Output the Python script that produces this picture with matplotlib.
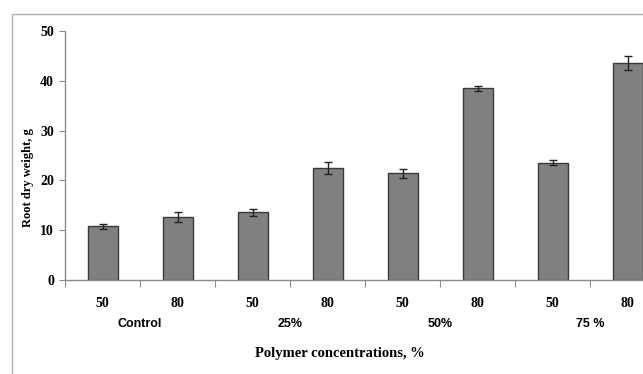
"""
Root dry weight under different polymer concentrations.
"""
import matplotlib
matplotlib.use("Agg")
import matplotlib.pyplot as plt
from matplotlib.patches import Rectangle

# data
sub_labels = ["50", "80", "50", "80", "50", "80", "50", "80"]
group_labels = ["Control", "25%", "50%", "75 %"]
weights = [10.8, 12.6, 13.6, 22.5, 21.4, 38.5, 23.5, 43.5]
errors = [0.5, 1.0, 0.7, 1.2, 0.9, 0.5, 0.5, 1.4]

SERIF = ["Liberation Serif", "DejaVu Serif"]
SANS = ["Liberation Sans", "DejaVu Sans"]
AXIS_GREY = "#8c8c8c"

fig = plt.figure(figsize=(6.43, 3.74), dpi=100)

# outer frame of the original chart (cropped on the right/bottom)
fig.patches.append(Rectangle((12 / 643, -0.2), 1.2, 1.2 - 14 / 374,
                             transform=fig.transFigure, fill=False,
                             edgecolor="#b0b0b0", linewidth=1.0))

# axes reach past the right edge, as in the reference
ax = fig.add_axes([65 / 643, 1 - 280 / 374, 600 / 643, 249 / 374])

x = list(range(len(weights)))
ax.bar(x, weights, width=0.4, color="#808080", edgecolor="#3a3a3a",
       linewidth=1.0, zorder=2)
ax.errorbar(x, weights, yerr=errors, fmt="none", ecolor="#222222",
            elinewidth=1.0, capsize=3, capthick=1.0, zorder=3)

ax.set_xlim(-0.5, len(weights) - 0.5)
ax.set_ylim(0, 50)
ax.set_yticks([0, 10, 20, 30, 40, 50])

for side in ["top", "right"]:
    ax.spines[side].set_visible(False)
for side in ["left", "bottom"]:
    ax.spines[side].set_color(AXIS_GREY)
    ax.spines[side].set_linewidth(1.0)

# category boundary ticks
ax.set_xticks([i - 0.5 for i in range(len(weights) + 1)])
ax.set_xticklabels([])
ax.tick_params(axis="x", which="major", length=5, color=AXIS_GREY,
               direction="out")
ax.set_xticks(x, minor=True)
ax.set_xticklabels(sub_labels, minor=True, fontfamily=SERIF,
                   fontweight="bold", fontsize=10)
ax.tick_params(axis="x", which="minor", length=0, pad=12)

ax.tick_params(axis="y", length=4, color=AXIS_GREY, direction="out",
               pad=4, labelsize=10)
for lab in ax.get_yticklabels():
    lab.set_fontfamily(SERIF)
    lab.set_fontweight("bold")

# group labels under the pairs
for i, g in enumerate(group_labels):
    ax.text(2 * i + 0.5, -44 / 249, g, transform=ax.get_xaxis_transform(),
            ha="center", va="center", fontfamily=SANS, fontweight="bold",
            fontsize=9)

fig.text(28 / 643, 1 - 178 / 374, "Root dry weight, g", rotation=90,
         ha="center", va="center", fontfamily=SERIF, fontweight="bold",
         fontsize=9)
fig.text(340 / 643, 1 - 354 / 374, "Polymer concentrations, %",
         ha="center", va="center", fontfamily=SERIF, fontweight="bold",
         fontsize=10.5)

fig.savefig("out.png", dpi=100)
